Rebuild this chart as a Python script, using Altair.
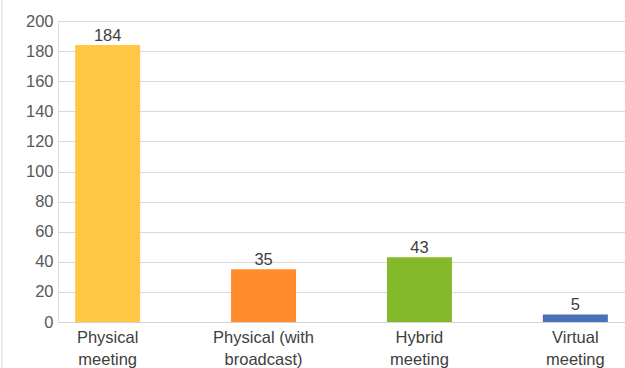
import altair as alt
import pandas as pd

categories = ["Physical\nmeeting", "Physical (with\nbroadcast)", "Hybrid\nmeeting", "Virtual\nmeeting"]
values = [184, 35, 43, 5]
colors = ["#FFC743", "#FF8B2C", "#83B92A", "#4A70B8"]
title_text = "Number of meetings by type of meeting (n=267)"
y_ticks = list(range(0, 201, 20))

df = pd.DataFrame({"cat": categories, "val": values, "color": colors})

FONT = "Liberation Sans"
FS = 16.5

x_enc = alt.X(
    "cat:N",
    sort=categories,
    scale=alt.Scale(paddingInner=0.583, paddingOuter=0.11),
    axis=alt.Axis(
        title=None,
        labelAngle=0,
        labelExpr="split(datum.label, '\\n')",
        labelFont=FONT,
        labelFontSize=FS,
        labelColor="#404040",
        labelLineHeight=22,
        labelPadding=7,
        labelOverlap=False,
        ticks=False,
        domain=True,
        domainColor="#d4d4d4",
        domainWidth=1,
        grid=False,
    ),
)
y_enc = alt.Y(
    "val:Q",
    scale=alt.Scale(domain=[0, 200], nice=False),
    axis=alt.Axis(
        title=None,
        values=y_ticks,
        tickCount=len(y_ticks) + 1,
        labelFont=FONT,
        labelFontSize=FS,
        labelColor="#595959",
        labelPadding=5,
        labelOverlap=False,
        labelFlush=False,
        ticks=False,
        domain=False,
        grid=True,
        gridColor="#d9d9d9",
        gridWidth=1,
    ),
)

base = alt.Chart(df).encode(x=x_enc, y=y_enc)

bars = base.mark_bar(size=65).encode(
    color=alt.Color("color:N", scale=None, legend=None),
)

labels = base.mark_text(
    baseline="bottom", dy=-1, font=FONT, fontSize=FS, color="#404040"
).encode(
    text="val:Q",
)

title = alt.Chart(pd.DataFrame({"t": [title_text]})).mark_text(
    align="right", baseline="alphabetic", font=FONT, fontSize=15,
    fontWeight="bold", color="#262626"
).encode(
    x=alt.value(306), y=alt.value(-26.5), text="t:N"
)

border = alt.Chart(pd.DataFrame({"a": [0]})).mark_rule(
    color="#d9d9d9", strokeWidth=1
).encode(
    x=alt.value(-56), y=alt.value(-30), y2=alt.value(360)
)

chart = alt.layer(bars, labels, title, border).properties(
    width=567,
    height=301,
    autosize=alt.AutoSizeParams(type="none"),
    padding={"left": 58, "top": 21, "right": 0, "bottom": 46},
).configure_view(stroke=None).configure(background="white")

chart.save("out.html", embed_options={"renderer": "svg", "actions": False})
